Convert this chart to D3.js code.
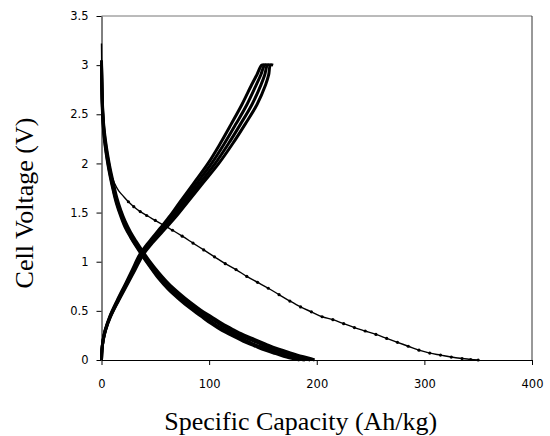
<!DOCTYPE html>
<html>
<head>
<meta charset="utf-8">
<script src="https://cdn.jsdelivr.net/npm/d3@7"></script>
<style>
  body { margin: 0; background: #fff; }
  .tick text { font-family: "DejaVu Sans", Arial, sans-serif; font-size: 11.5px; fill: #000; }
  .axis-title { font-family: "Liberation Serif", "Times New Roman", serif; font-size: 26px; fill: #000; }
</style>
</head>
<body>
<svg id="chart" width="550" height="436"></svg>
<script>
// first discharge [capacity Ah/kg, voltage V]
let discharge1 = [[0,3.22],[0.3,2.9],[0.8,2.6],[1.5,2.4],[3,2.2],[5,2.06],[8,1.92],[12,1.8],[16,1.72],[20,1.67],
    [25,1.61],[30,1.56],[36,1.51],[42,1.47],[50,1.42],[58,1.37],[66,1.32],[75,1.26],[85,1.19],[95,1.12],
    [105,1.05],[115,0.98],[125,0.92],[135,0.85],[145,0.79],[155,0.73],[165,0.665],[175,0.6],[185,0.54],[195,0.49],
    [205,0.44],[215,0.41],[225,0.37],[235,0.33],[245,0.295],[255,0.26],[265,0.22],[275,0.18],[285,0.14],[295,0.1],
    [305,0.07],[315,0.05],[325,0.03],[335,0.015],[343,0.005],[350,0.0]];

// later discharges
let discharge2 = [[0,3.05],[0.4,2.8],[1,2.58],[2,2.4],[3.5,2.25],[5.5,2.1],[8,1.95],[11,1.8],[14,1.66],[18,1.52],
    [22,1.41],[27,1.3],[32,1.21],[38,1.11],[45,1.0],[53,0.89],[62,0.78],[72,0.68],[82,0.59],[92,0.51],
    [102,0.44],[112,0.37],[122,0.31],[132,0.255],[142,0.21],[152,0.165],[162,0.12],[172,0.085],[182,0.05],[192,0.02],[198,0.0]];
let discharge3 = [[0,3.02],[0.4,2.77],[1,2.55],[2,2.37],[3.5,2.22],[5.5,2.07],[8,1.92],[11,1.77],[14,1.63],[18,1.5],
    [22,1.39],[27,1.28],[32,1.19],[38,1.09],[45,0.98],[53,0.87],[62,0.76],[72,0.66],[82,0.57],[92,0.49],
    [102,0.42],[112,0.35],[122,0.29],[132,0.235],[142,0.19],[152,0.145],[162,0.1],[172,0.065],[182,0.03],[190,0.01],[194,0.0]];
let discharge4 = [[0,3.0],[0.4,2.75],[1,2.52],[2,2.34],[3.5,2.19],[5.5,2.04],[8,1.89],[11,1.74],[14,1.61],[18,1.48],
    [22,1.37],[27,1.26],[32,1.17],[38,1.07],[45,0.96],[53,0.85],[62,0.74],[72,0.64],[82,0.55],[92,0.47],
    [102,0.39],[112,0.32],[122,0.265],[132,0.21],[142,0.16],[152,0.12],[162,0.08],[172,0.045],[180,0.02],[186,0.005],[189,0.0]];
let discharge5 = [[0,2.98],[0.4,2.72],[1,2.5],[2,2.32],[3.5,2.17],[5.5,2.02],[8,1.87],[11,1.72],[14,1.59],[18,1.46],
    [22,1.35],[27,1.25],[32,1.16],[38,1.06],[45,0.95],[53,0.83],[62,0.72],[72,0.62],[82,0.53],[92,0.45],
    [102,0.37],[112,0.3],[122,0.245],[132,0.19],[142,0.145],[152,0.1],[162,0.065],[172,0.03],[180,0.01],[184,0.0]];

// charges: shared voltage steps, capacity per cycle
let chargeVolts = [0,0.1,0.2,0.3,0.44,0.6,0.78,0.92,1.07,1.2,1.34,1.47,1.6,1.8,2.0,2.2,2.4,2.6,2.8,2.9,3.0,3.0];
let chargeCap1 = [0,0.4,1.4,3.3,7.6,14.3,22.5,28.7,35.4,44,54.5,64,72.5,85.8,99,110.2,120.5,130.5,139.5,144.3,149,152.5];
let chargeCap2 = [0,0.4,1.47,3.43,7.87,14.77,23.17,29.57,36.47,45.33,56.17,66,74.83,88.6,102.33,114.07,124.83,135.17,143.83,147.97,151.67,154.83];
let chargeCap3 = [0,0.4,1.53,3.57,8.13,15.23,23.83,30.43,37.53,46.67,57.83,68,77.17,91.4,105.67,117.93,129.17,139.83,148.17,151.63,154.33,157.17];
let chargeCap4 = [0,0.4,1.6,3.7,8.4,15.7,24.5,31.3,38.6,48,59.5,70,79.5,94.2,109,121.8,133.5,144.5,152.5,155.3,157,159.5];

let xTicks = [0, 100, 200, 300, 400];
let yTicks = [0, 0.5, 1, 1.5, 2, 2.5, 3, 3.5];

let svg = d3.select("#chart");
let x = d3.scaleLinear().domain([0, 400]).range([101.5, 532]);
let y = d3.scaleLinear().domain([0, 3.5]).range([360, 16]);

// frame top/right
svg.append("line").attr("x1", x(0)).attr("x2", x(400)).attr("y1", y(3.5)).attr("y2", y(3.5))
    .attr("stroke", "#777").attr("stroke-width", 1);
svg.append("line").attr("x1", x(400)).attr("x2", x(400)).attr("y1", y(3.5)).attr("y2", y(0))
    .attr("stroke", "#333").attr("stroke-width", 1);

let line = d3.line().x(d => x(d[0])).y(d => y(d[1])).curve(d3.curveCatmullRom.alpha(0.5));

let cycles = [discharge2, discharge3, discharge4, discharge5];
[chargeCap1, chargeCap2, chargeCap3, chargeCap4].forEach(caps => {
    cycles.push(caps.map((c, i) => [c, chargeVolts[i]]));
});

svg.append("g").selectAll("path")
    .data(cycles)
    .join("path")
    .attr("d", line)
    .attr("fill", "none")
    .attr("stroke", "#000")
    .attr("stroke-width", 3);

svg.append("path")
    .datum(discharge1)
    .attr("d", line)
    .attr("fill", "none")
    .attr("stroke", "#000")
    .attr("stroke-width", 1.4);

svg.append("g").selectAll("circle")
    .data(discharge1.filter(d => d[0] > 20))
    .join("circle")
    .attr("cx", d => x(d[0]))
    .attr("cy", d => y(d[1]))
    .attr("r", 1.6)
    .attr("fill", "#000");

// axes
let xAxis = svg.append("g")
    .attr("transform", "translate(0," + y(0) + ")")
    .call(d3.axisBottom(x).tickValues(xTicks).tickSize(5).tickPadding(15).tickSizeOuter(0));
let yAxis = svg.append("g")
    .attr("transform", "translate(" + x(0) + ",0)")
    .call(d3.axisLeft(y).tickValues(yTicks).tickFormat(d3.format("~g")).tickSize(5).tickPadding(8).tickSizeOuter(0));
[xAxis, yAxis].forEach(a => {
    a.select(".domain").attr("stroke", "#000");
    a.selectAll(".tick line").attr("stroke", "#000");
});

svg.append("text")
    .attr("class", "axis-title")
    .attr("x", (x(0) + x(400)) / 2 - 16)
    .attr("y", 430)
    .attr("text-anchor", "middle")
    .text("Specific Capacity (Ah/kg)");

svg.append("text")
    .attr("class", "axis-title")
    .attr("transform", "translate(33,203) rotate(-90)")
    .attr("text-anchor", "middle")
    .text("Cell Voltage (V)");
</script>
</body>
</html>
